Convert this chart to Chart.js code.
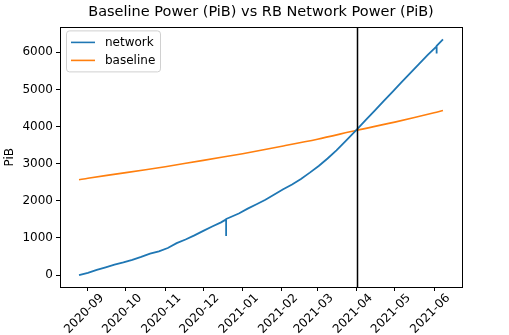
<!DOCTYPE html>
<html>
<head>
<meta charset="utf-8">
<script src="https://cdn.jsdelivr.net/npm/chart.js@4/dist/chart.umd.min.js"></script>
<style>
  html, body { margin: 0; padding: 0; background: #fff; }
</style>
</head>
<body>
<canvas id="chart" width="509" height="335"></canvas>
<script>
// data
const networkDates = [
  '2020-08-25','2020-09-01','2020-09-08','2020-09-15','2020-09-22','2020-09-29',
  '2020-10-06','2020-10-13','2020-10-20','2020-10-27','2020-11-03','2020-11-10',
  '2020-11-17','2020-11-24','2020-12-01','2020-12-08','2020-12-15','2020-12-19',
  '2020-12-19','2020-12-19','2020-12-29','2021-01-05','2021-01-12','2021-01-19',
  '2021-01-26','2021-02-02','2021-02-09','2021-02-16','2021-02-23','2021-03-02',
  '2021-03-09','2021-03-16','2021-03-23','2021-04-01','2021-04-08','2021-04-15',
  '2021-04-22','2021-04-29','2021-05-06','2021-05-13','2021-05-20','2021-05-27',
  '2021-06-03','2021-06-03','2021-06-03','2021-06-08'
];
const networkValues = [
  0, 60, 140, 210, 280, 340,
  410, 490, 580, 640, 730, 860,
  960, 1070, 1190, 1310, 1420, 1500,
  1050, 1510, 1660, 1790, 1910, 2030,
  2170, 2310, 2440, 2590, 2760, 2940,
  3140, 3360, 3600, 3920, 4170, 4420,
  4680, 4930, 5180, 5430, 5680, 5930,
  6160, 5970, 6170, 6350
];
const baselineDates = [
  '2020-08-25','2020-09-01','2020-10-01','2020-11-01','2020-12-01','2021-01-01',
  '2021-02-01','2021-03-01','2021-04-01','2021-05-01','2021-06-01','2021-06-08'
];
const baselineValues = [2570, 2610, 2760, 2920, 3090, 3270, 3470, 3660, 3900, 4120, 4370, 4430];

const xTickLabels = ['2020-09','2020-10','2020-11','2020-12','2021-01','2021-02','2021-03','2021-04','2021-05','2021-06'];
const yTickValues = [0, 1000, 2000, 3000, 4000, 5000, 6000];
const markerDate = '2021-04-01';

function dayNum(s) {
  const p = s.split('-').map(Number);
  return Date.UTC(p[0], p[1] - 1, p[2] || 1) / 86400000;
}
const xTickDays = xTickLabels.map(l => dayNum(l));

const FONT = 'DejaVu Sans';

// frame + vertical marker
const framePlugin = {
  id: 'frame',
  afterDatasetsDraw(chart) {
    const { ctx, chartArea: a, scales } = chart;
    ctx.save();
    const mx = Math.round(scales.x.getPixelForValue(dayNum(markerDate))) + 0.5;
    ctx.strokeStyle = '#000';
    ctx.lineWidth = 1.5;
    ctx.beginPath();
    ctx.moveTo(mx, a.top);
    ctx.lineTo(mx, a.bottom);
    ctx.stroke();
    ctx.lineWidth = 1;
    ctx.strokeRect(Math.round(a.left) + 0.5, Math.round(a.top) + 0.5, Math.round(a.right - a.left), Math.round(a.bottom - a.top));
    ctx.restore();
  }
};

// matplotlib style legend inside upper left
const legendPlugin = {
  id: 'innerLegend',
  afterDraw(chart) {
    const { ctx, chartArea: a } = chart;
    const x = a.left + 6, y = a.top + 3;
    const w = 94, h = 41;
    ctx.save();
    ctx.fillStyle = 'rgba(255,255,255,0.8)';
    ctx.strokeStyle = '#d0d0d0';
    ctx.lineWidth = 1;
    ctx.beginPath();
    ctx.roundRect(x + 0.5, y + 0.5, w, h, 3);
    ctx.fill();
    ctx.stroke();
    ctx.font = '12px "' + FONT + '"';
    ctx.textBaseline = 'middle';
    chart.data.datasets.forEach((ds, i) => {
      const cy = y + 12 + i * 18;
      ctx.strokeStyle = ds.borderColor;
      ctx.lineWidth = 1.6;
      ctx.beginPath();
      ctx.moveTo(x + 5, cy);
      ctx.lineTo(x + 29, cy);
      ctx.stroke();
      ctx.fillStyle = '#000';
      ctx.fillText(ds.label, x + 39, cy);
    });
    ctx.restore();
  }
};

new Chart(document.getElementById('chart').getContext('2d'), {
  type: 'line',
  data: {
    datasets: [
      {
        label: 'network',
        data: networkDates.map((d, i) => ({ x: dayNum(d), y: networkValues[i] })),
        borderColor: '#1f77b4',
        borderWidth: 1.8,
        pointRadius: 0,
        tension: 0
      },
      {
        label: 'baseline',
        data: baselineDates.map((d, i) => ({ x: dayNum(d), y: baselineValues[i] })),
        borderColor: '#ff7f0e',
        borderWidth: 1.6,
        pointRadius: 0,
        tension: 0.3
      }
    ]
  },
  options: {
    responsive: false,
    animation: false,
    devicePixelRatio: 1,
    layout: { padding: { left: 0, right: 47, top: 0, bottom: 0 } },
    plugins: {
      legend: { display: false },
      tooltip: { enabled: false },
      title: {
        display: true,
        fullSize: false,
        align: 'center',
        text: 'Baseline Power (PiB) vs RB Network Power (PiB)',
        color: '#000',
        font: { family: FONT, size: 14.5, weight: 'normal' },
        padding: { top: 4, bottom: 6 }
      }
    },
    scales: {
      x: {
        type: 'linear',
        min: dayNum('2020-08-10'),
        max: dayNum('2021-06-23'),
        afterBuildTicks: s => { s.ticks = xTickDays.map(v => ({ value: v })); },
        afterFit: s => { s.height = 48; },
        grid: { drawOnChartArea: false, color: '#000', tickLength: 4 },
        border: { color: '#000' },
        ticks: {
          callback: (v, i) => xTickLabels[i],
          minRotation: 45,
          maxRotation: 45,
          autoSkip: false,
          labelOffset: 14,
          padding: 0,
          color: '#000',
          font: { family: FONT, size: 12 }
        }
      },
      y: {
        min: -320,
        max: 6670,
        afterBuildTicks: s => { s.ticks = yTickValues.map(v => ({ value: v })); },
        afterFit: s => { s.width = 60; },
        grid: { drawOnChartArea: false, color: '#000', tickLength: 4 },
        border: { color: '#000' },
        title: {
          display: true,
          text: 'PiB',
          color: '#000',
          font: { family: FONT, size: 12 },
          padding: { top: 3, bottom: 0 }
        },
        ticks: {
          callback: v => String(v),
          color: '#000',
          padding: 3,
          font: { family: FONT, size: 12 }
        }
      }
    }
  },
  plugins: [framePlugin, legendPlugin]
});
</script>
</body>
</html>
